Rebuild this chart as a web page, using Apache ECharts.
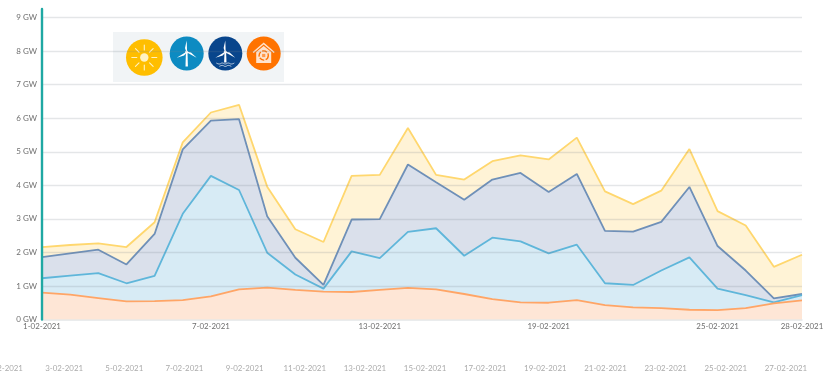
<!DOCTYPE html>
<html>
<head>
<meta charset="utf-8">
<style>html,body{margin:0;padding:0;background:#fff}#c{width:830px;height:384px}</style>
<script src="https://cdn.jsdelivr.net/npm/echarts@6/dist/echarts.min.js"></script>
</head>
<body>
<div id="c"></div>
<script>
const categories = ['1-02-2021','2-02-2021','3-02-2021','4-02-2021','5-02-2021','6-02-2021','7-02-2021','8-02-2021','9-02-2021','10-02-2021','11-02-2021','12-02-2021','13-02-2021','14-02-2021','15-02-2021','16-02-2021','17-02-2021','18-02-2021','19-02-2021','20-02-2021','21-02-2021','22-02-2021','23-02-2021','24-02-2021','25-02-2021','26-02-2021','27-02-2021','28-02-2021'];
const solar = [2.16,2.22,2.27,2.16,2.90,5.28,6.17,6.40,3.96,2.69,2.31,4.28,4.31,5.71,4.31,4.17,4.72,4.89,4.77,5.42,3.82,3.44,3.84,5.08,3.23,2.80,1.57,1.93];
const offshore = [1.86,1.97,2.08,1.64,2.55,5.07,5.93,5.97,3.08,1.84,1.03,2.98,2.99,4.62,4.09,3.57,4.17,4.37,3.80,4.34,2.64,2.62,2.91,3.95,2.19,1.46,0.63,0.76];
const onshore = [1.23,1.31,1.38,1.08,1.30,3.15,4.28,3.86,1.99,1.34,0.92,2.03,1.83,2.61,2.72,1.90,2.44,2.33,1.97,2.23,1.08,1.03,1.46,1.85,0.92,0.73,0.51,0.73];
const biomass = [0.80,0.74,0.64,0.54,0.55,0.58,0.69,0.90,0.95,0.88,0.83,0.82,0.88,0.94,0.90,0.76,0.61,0.51,0.50,0.58,0.43,0.36,0.34,0.29,0.28,0.34,0.48,0.57];

const FONT = 'Lato';
const lastIdx = categories.length - 1;

function area(name, data, line, fill) {
  return {
    name, type: 'line', data, xAxisIndex: 0, yAxisIndex: 0,
    symbol: 'none', smooth: false,
    lineStyle: { color: line, width: 1.8 },
    itemStyle: { color: line },
    areaStyle: { color: fill, opacity: 1 }
  };
}

function seg(x1, y1, x2, y2, color, w) {
  return { type: 'line', shape: { x1, y1, x2, y2 }, style: { stroke: color, lineWidth: w, lineCap: 'round' } };
}

function sunIcon(cx, cy, r) {
  const out = [{ type: 'circle', shape: { cx, cy, r }, style: { fill: '#ffbe00' } },
               { type: 'circle', shape: { cx, cy, r: 4.2 }, style: { fill: '#fff2c4' } }];
  for (let i = 0; i < 8; i++) {
    const a = i * Math.PI / 4;
    out.push(seg(cx + Math.cos(a) * 7.5, cy + Math.sin(a) * 7.5, cx + Math.cos(a) * 12.5, cy + Math.sin(a) * 12.5, '#fff2c4', 1.1));
  }
  return out;
}

function turbineIcon(cx, cy, r, color, waves) {
  const hy = cy - 1.5;
  const out = [{ type: 'circle', shape: { cx, cy, r }, style: { fill: color } }];
  out.push({ type: 'polygon', shape: { points: [[cx - 0.8, hy], [cx + 0.8, hy], [cx + 1.2, cy + (waves ? 9 : 13)], [cx - 1.2, cy + (waves ? 9 : 13)]] }, style: { fill: '#fff' } });
  [-Math.PI / 2, Math.PI / 6, Math.PI * 5 / 6].forEach(a => {
    const c = Math.cos(a), s = Math.sin(a);
    const len = 11.5, wd = 1.7;
    out.push({ type: 'polygon', shape: { points: [
      [cx + s * 0.4, hy - c * 0.4],
      [cx + c * 4 + s * wd, hy + s * 4 - c * wd],
      [cx + c * len, hy + s * len],
      [cx - s * 0.4, hy + c * 0.4]
    ] }, style: { fill: '#fff' } });
  });
  out.push({ type: 'circle', shape: { cx, cy: hy, r: 1.6 }, style: { fill: '#fff' } });
  if (waves) {
    [10, 12.4].forEach((d, k) => {
      const half = k === 0 ? 9 : 6;
      const pts = [];
      for (let x = -half; x <= half; x += 3) pts.push([cx + x, cy + d + (Math.round(x / 3) % 2 === 0 ? 0.5 : -0.5)]);
      out.push({ type: 'polyline', shape: { points: pts, smooth: 0.5 }, style: { stroke: '#fff', lineWidth: 0.7, fill: null } });
    });
  }
  return out;
}

function homeIcon(cx, cy, r) {
  const w = '#ffe3cc';
  return [
    { type: 'circle', shape: { cx, cy, r }, style: { fill: '#ff7300' } },
    { type: 'polyline', shape: { points: [[cx - 10.5, cy - 1], [cx, cy - 10], [cx + 10.5, cy - 1]] }, style: { stroke: w, lineWidth: 1.5, fill: null } },
    { type: 'polygon', shape: { points: [[cx - 7.5, cy - 1.5], [cx, cy - 7.5], [cx + 7.5, cy - 1.5], [cx + 7.5, cy + 9.5], [cx - 7.5, cy + 9.5]] }, style: { fill: w } },
    { type: 'circle', shape: { cx, cy: cy + 2, r: 4.6 }, style: { fill: null, stroke: '#ff7300', lineWidth: 1.4, lineDash: [5, 1.5] } },
    { type: 'rect', shape: { x: cx - 1.6, y: cy + 0.4, width: 3.2, height: 3.2 }, style: { fill: '#ff9a4d' } }
  ];
}

const chart = echarts.init(document.getElementById('c'), null, { renderer: 'canvas' });
chart.setOption({
  animation: false,
  backgroundColor: '#fff',
  textStyle: { fontFamily: FONT },
  grid: [
    { left: 42, top: 9, width: 760, height: 310.5, containLabel: false, outerBoundsMode: 'none' },
    { left: 4, top: 360, width: 812, height: 1, containLabel: false, outerBoundsMode: 'none' }
  ],
  xAxis: [
    {
      type: 'category', gridIndex: 0, data: categories, boundaryGap: false,
      axisLine: { show: true, lineStyle: { color: '#e4e6e8', width: 1.5 } },
      axisTick: { show: false }, splitLine: { show: false },
      axisLabel: {
        color: '#6e6e6e', fontFamily: FONT, fontSize: 7.9, margin: 3,
        interval: i => i % 6 === 0 || i === lastIdx,
        showMinLabel: true, showMaxLabel: true, hideOverlap: false
      }
    },
    {
      type: 'category', gridIndex: 1, data: categories, boundaryGap: false,
      axisLine: { show: false }, axisTick: { show: false }, splitLine: { show: false },
      axisLabel: {
        color: '#ababab', fontFamily: FONT, fontSize: 7.9, margin: 3,
        interval: i => i % 2 === 0, hideOverlap: false
      }
    }
  ],
  yAxis: [
    {
      type: 'value', gridIndex: 0, min: 0, max: 9.255, interval: 1, z: 5,
      axisLine: { show: true, lineStyle: { color: '#1fa8a3', width: 2.4 } },
      axisTick: { show: false },
      splitLine: { show: true, showMinLine: false, showMaxLine: false, lineStyle: { color: 'rgba(120,130,140,0.2)', width: 1.4 } },
      axisLabel: {
        color: '#6e6e6e', fontFamily: FONT, fontSize: 8, margin: 5,
        showMaxLabel: false, formatter: v => v + ' GW'
      }
    },
    { type: 'value', gridIndex: 1, show: false }
  ],
  series: [
    area('Solar', solar, '#ffd76e', '#fff3d6'),
    area('Offshore wind', offshore, '#6f90b8', '#dae0eb'),
    area('Onshore wind', onshore, '#5fb6da', '#d7ebf5'),
    area('Biomass', biomass, '#ffa566', '#fee6d6')
  ],
  graphic: [
    { type: 'group', z: 10, silent: true, children: [
      { type: 'rect', shape: { x: 113, y: 32, width: 171, height: 50 }, style: { fill: '#f1f4f6' } },
      ...sunIcon(144.3, 57.5, 18.3),
      ...turbineIcon(186.7, 53.5, 17, '#0d8bc2', false),
      ...turbineIcon(225.3, 53.5, 17, '#08458c', true),
      ...homeIcon(263.7, 53.5, 17)
    ] }
  ]
});
</script>
</body>
</html>
